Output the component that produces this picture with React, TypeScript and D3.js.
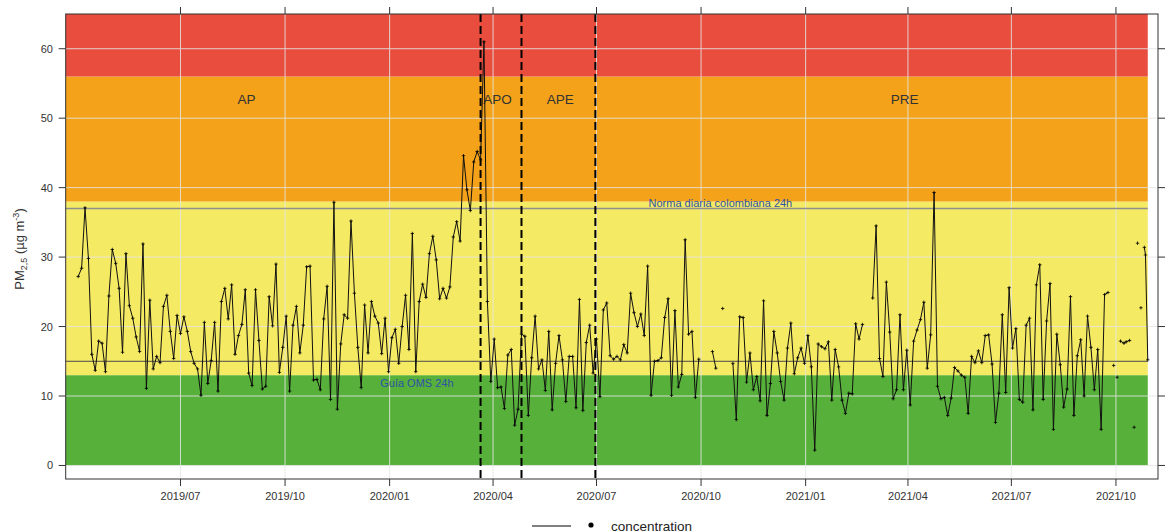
import * as d3 from "d3";

// PM2.5 sampled every 3 days, starting 2019-04-02 (null = no sample)
const startDate = "2019-04-02";
const stepDays = 3;
const pm25: (number | null)[] = [
  27.2, 28.4, 37.1, 29.8, 16.0, 13.7, 17.9, 17.6, 13.5, 24.4,
  31.1, 29.1, 25.5, 16.3, 30.5, 23.0, 21.2, 18.5, 16.4, 31.9,
  11.1, 23.8, 13.9, 15.7, 14.8, 22.9, 24.5, 19.3, 15.4, 21.6,
  19.0, 21.4, 19.3, 16.4, 14.7, 13.9, 10.1, 20.6, 11.8, 15.1,
  20.6, 10.7, 23.6, 25.5, 21.1, 26.0, 16.0, 18.7, 20.3, 25.3,
  13.3, 11.5, 25.3, 18.0, 11.0, 11.4, 24.3, 20.1, 29.0, 13.4,
  17.0, 21.5, 10.7, 20.2, 22.9, 16.2, 20.2, 28.6, 28.7, 12.3,
  12.4, 10.9, 21.1, 25.8, 9.5, 37.9, 8.1, 17.5, 21.7, 21.2,
  35.2, 24.8, 17.0, 11.2, 23.1, 16.2, 23.6, 21.5, 20.5, 16.1,
  21.2, 13.5, 18.4, 19.6, 14.7, 20.0, 24.5, 16.7, 33.4, 13.5,
  23.6, 26.1, 24.2, 30.5, 33.0, 29.6, 24.0, 25.5, 24.1, 25.7,
  32.9, 35.1, 32.3, 44.6, 39.7, 36.7, 43.7, 45.2, 44.0, 61.0,
  23.6, 12.1, 18.2, 11.2, 11.3, 8.2, 15.9, 16.7, 5.8, 8.1,
  18.9, 18.6, 7.2, 15.5, 21.5, 13.9, 15.2, 10.8, 19.3, 8.0,
  14.7, 18.7, 15.2, 9.2, 15.7, 15.7, 8.3, 23.9, 7.9, 17.7,
  20.2, 13.3, 18.2, 9.9, 22.4, 23.4, 15.8, 15.3, 15.7, 15.2,
  17.4, 16.2, 24.8, 22.0, 20.0, 21.8, 18.7, 28.7, 10.1, 15.0,
  15.1, 15.5, 21.3, 24.0, 10.1, 22.3, 11.3, 13.1, 32.5, 18.9,
  19.3, 9.8, 15.3, null, null, null, 16.4, 14.0, null, 22.6,
  null, null, 14.7, 6.6, 21.4, 21.3, 12.0, 16.2, 10.9, 12.8,
  9.3, 23.7, 7.2, 11.8, 19.3, 16.2, 12.1, 9.4, 16.9, 20.5,
  13.2, 15.5, 16.9, 14.7, 18.7, 14.2, 2.2, 17.5, 17.1, 16.8,
  17.8, 9.4, 16.7, 14.2, 9.4, 7.5, 10.4, 10.3, 20.4, 18.2,
  20.3, null, null, 24.1, 34.5, 15.4, 12.8, 26.4, 19.2, 9.6,
  10.9, 21.7, 10.9, 16.6, 8.7, 17.9, 19.5, 21.0, 23.5, 14.0,
  18.8, 39.3, 11.4, 9.6, 9.8, 7.2, 9.7, 14.1, 13.6, 13.0,
  12.7, 7.5, 15.7, 14.8, 16.5, 14.8, 18.7, 18.8, 14.6, 6.2,
  10.4, 21.7, 10.5, 25.6, 16.9, 19.7, 9.5, 9.1, 20.2, 21.2,
  8.0, 26.0, 28.9, 9.5, 20.8, 26.2, 5.2, 18.9, 14.5, 8.4,
  11.0, 24.3, 7.2, 15.8, 18.1, 10.0, 21.5, 17.0, 10.9, 16.7,
  5.2, 24.6, 24.9,
];

// last weeks, irregular sampling
const tailDates = [
  "2021-09-27", "2021-09-29", "2021-10-01", "2021-10-02", "2021-10-04",
  "2021-10-05", "2021-10-08", "2021-10-10", "2021-10-13", "2021-10-15",
  "2021-10-17", "2021-10-18", "2021-10-20", "2021-10-21", "2021-10-23",
  "2021-10-24", "2021-10-26", "2021-10-27", "2021-10-29",
];
const tailValues: (number | null)[] = [
  null, 14.4, null, 12.7, null, 17.9, 17.6, 17.8, 18.0, null,
  5.5, null, 32.0, null, 22.7, null, 31.4, 30.3, 15.2,
];

const xTickDates = [
  "2019-07-01", "2019-10-01", "2020-01-01", "2020-04-01", "2020-07-01",
  "2020-10-01", "2021-01-01", "2021-04-01", "2021-07-01", "2021-10-01",
];
const yTicks = [0, 10, 20, 30, 40, 50, 60];

// air quality index bands
const bandLimits = [0, 13, 38, 56, 65];
const bandColors = ["#56b03a", "#f5ea64", "#f4a21a", "#e84d3e"];

// lockdown phases
const phaseBreaks = ["2020-03-21", "2020-04-26", "2020-06-30"];
const phaseNames = ["AP", "APO", "APE", "PRE"];
const phaseLabelDates = ["2019-08-28", "2020-04-05", "2020-05-30", "2021-03-29"];

const refValues = [37, 15];
const refLabels = ["Norma diaria colombiana 24h", "Guía OMS 24h"];
const refLabelDates = ["2020-10-18", "2020-01-25"];
const refLabelValues = [37.2, 11.3];
const refColors = ["#8f8f8f", "#4a4a4a"];

const W = 1167, H = 532;
const margin = { left: 65.7, right: 1158, top: 14, bottom: 479 };

export default function App() {
  const parse = d3.timeParse("%Y-%m-%d");
  const t0 = parse(startDate)!;

  const data = pm25
    .map((v, i) => ({ date: d3.timeDay.offset(t0, i * stepDays), value: v }))
    .concat(tailDates.map((d, i) => ({ date: parse(d)!, value: tailValues[i] })));

  const lastDate = parse(tailDates[tailDates.length - 1])!;

  const x = d3
    .scaleTime()
    .domain([parse("2019-03-22")!, parse("2021-11-07")!])
    .range([margin.left, margin.right]);
  const y = d3.scaleLinear().domain([-1.95, 65]).range([margin.bottom, margin.top]);

  const line = d3
    .line<{ date: Date; value: number | null }>()
    .defined((d) => d.value != null)
    .x((d) => x(d.date))
    .y((d) => y(d.value as number));

  const fmt = d3.timeFormat("%Y/%m");
  const font = "'Liberation Sans', Arial, sans-serif";
  const x0 = margin.left;
  const xEnd = x(lastDate);

  return (
    <svg
      width={W}
      height={H}
      style={{ position: "absolute", left: 0, top: 0, background: "#fff" }}
      fontFamily={font}
    >
      {/* bands */}
      {bandColors.map((c, i) => (
        <rect
          key={c}
          x={x0}
          y={y(bandLimits[i + 1])}
          width={xEnd - x0}
          height={y(bandLimits[i]) - y(bandLimits[i + 1])}
          fill={c}
        />
      ))}

      {/* grid */}
      <g stroke="#e6e6e6" strokeWidth={1} opacity={0.85}>
        {yTicks.map((t) => (
          <line key={t} x1={margin.left} x2={margin.right} y1={y(t)} y2={y(t)} />
        ))}
        {xTickDates.map((d) => (
          <line key={d} x1={x(parse(d)!)} x2={x(parse(d)!)} y1={margin.top} y2={margin.bottom} />
        ))}
      </g>

      {/* reference lines */}
      {refValues.map((v, i) => (
        <line
          key={v}
          x1={x0}
          x2={xEnd}
          y1={y(v)}
          y2={y(v)}
          stroke={refColors[i]}
          strokeWidth={i === 0 ? 1.6 : 1}
        />
      ))}
      {refLabels.map((l, i) => (
        <text
          key={l}
          x={x(parse(refLabelDates[i])!)}
          y={y(refLabelValues[i])}
          textAnchor="middle"
          fontSize={11}
          fill="#2f52a6"
        >
          {l}
        </text>
      ))}

      {/* phase labels */}
      {phaseNames.map((p, i) => (
        <text
          key={p}
          x={x(parse(phaseLabelDates[i])!)}
          y={y(52.05)}
          textAnchor="middle"
          fontSize={13.5}
          fill="#333"
        >
          {p}
        </text>
      ))}

      {/* data */}
      <path d={line(data) ?? ""} fill="none" stroke="#111" strokeWidth={1} />
      <g stroke="#000" strokeWidth={0.8}>
        {data
          .filter((d) => d.value != null)
          .map((d, i) => (
            <path
              key={i}
              transform={`translate(${x(d.date)},${y(d.value as number)})`}
              d="M-1.7,0H1.7M0,-1.7V1.7"
            />
          ))}
      </g>

      {/* phase breaks */}
      {phaseBreaks.map((d) => (
        <line
          key={d}
          x1={x(parse(d)!)}
          x2={x(parse(d)!)}
          y1={margin.top}
          y2={margin.bottom}
          stroke="#000"
          strokeWidth={2}
          strokeDasharray="8,4"
        />
      ))}

      {/* frame */}
      <rect
        x={margin.left}
        y={margin.top}
        width={margin.right - margin.left}
        height={margin.bottom - margin.top}
        fill="none"
        stroke="#333"
        strokeWidth={1}
      />

      {/* axes */}
      <g stroke="#333" strokeWidth={1}>
        {yTicks.map((t) => (
          <g key={t}>
            <line x1={margin.left - 7} x2={margin.left} y1={y(t)} y2={y(t)} />
            <line x1={margin.right} x2={margin.right + 7} y1={y(t)} y2={y(t)} />
          </g>
        ))}
        {xTickDates.map((d) => (
          <g key={d}>
            <line x1={x(parse(d)!)} x2={x(parse(d)!)} y1={margin.bottom} y2={margin.bottom + 7} />
            <line x1={x(parse(d)!)} x2={x(parse(d)!)} y1={margin.top - 7} y2={margin.top} />
          </g>
        ))}
      </g>
      {yTicks.map((t) => (
        <text key={t} x={53} y={y(t)} dy="0.36em" textAnchor="end" fontSize={11} fill="#333">
          {t}
        </text>
      ))}
      {xTickDates.map((d) => (
        <text key={d} x={x(parse(d)!)} y={500} textAnchor="middle" fontSize={11} fill="#333">
          {fmt(parse(d)!)}
        </text>
      ))}

      {/* y title */}
      <text transform="translate(24,249) rotate(-90)" textAnchor="middle" fontSize={13} fill="#333">
        PM
        <tspan fontSize={9} dy={3}>2,5</tspan>
        <tspan dy={-3}> (µg m</tspan>
        <tspan fontSize={9} dy={-5}>-3</tspan>
        <tspan dy={5}>)</tspan>
      </text>

      {/* legend */}
      <line x1={532} x2={571} y1={526} y2={526} stroke="#000" strokeWidth={1} />
      <circle cx={591} cy={525} r={2.6} fill="#000" />
      <text x={611} y={530.5} fontSize={13.5} fill="#222">
        concentration
      </text>
    </svg>
  );
}
